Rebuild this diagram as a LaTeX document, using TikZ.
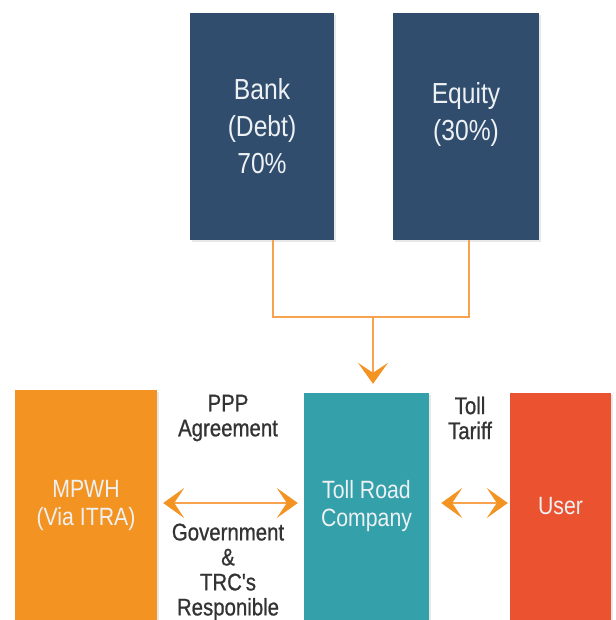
\documentclass[tikz,border=0pt]{standalone}
\usepackage{fontspec}
\setmainfont{Liberation Sans}[FakeStretch=0.85]
\newfontfamily\lblfont{Liberation Sans}[FakeStretch=0.85, FakeBold=0.8]
\usetikzlibrary{arrows.meta,shadows}
\definecolor{navy}{HTML}{304D6E}
\definecolor{mporange}{HTML}{F39322}
\definecolor{teal}{HTML}{33A0AA}
\definecolor{userred}{HTML}{EB5230}
\definecolor{lineorange}{HTML}{F6A24E}
\definecolor{tiporange}{HTML}{F39322}
\definecolor{boxtext}{HTML}{EEF1F4}
\definecolor{labeltext}{HTML}{333333}
\tikzset{
  box/.style={rectangle, inner sep=0pt, text=boxtext, align=center,
    drop shadow={opacity=0.18, shadow xshift=2pt, shadow yshift=-2pt}},
  topbox/.style={box, fill=navy, font=\fontsize{29}{37}\selectfont},
  lowbox/.style={box, font=\fontsize{25}{28}\selectfont},
  lbl/.style={text=labeltext, align=center, inner sep=0pt, font=\lblfont\fontsize{24}{25}\selectfont},
  feed/.style={draw=lineorange, line width=2pt},
  tipped/.style={draw=lineorange, line width=2pt,
    -{Stealth[length=21pt,width=30pt,inset=10pt,color=tiporange]}},
  both/.style={draw=lineorange, line width=2pt,
    {Stealth[length=21pt,width=30pt,inset=10pt,color=tiporange]}-{Stealth[length=21pt,width=30pt,inset=10pt,color=tiporange]}}
}
\begin{document}
\begin{tikzpicture}[x=1pt,y=-1pt]
\useasboundingbox (0,0) rectangle (615,620);
\node[topbox, minimum width=144pt, minimum height=227pt] (bank) at (262,126.5) {Bank\\(Debt)\\70\%};
\node[topbox, minimum width=146pt, minimum height=227pt] (equity) at (466,126.5) {Equity\\(30\%)\\[-6pt]\mbox{}};
\node[lowbox, fill=mporange, minimum width=142pt, minimum height=230pt] (mpwh) at (86,505) {MPWH\\(Via ITRA)};
\node[lowbox, fill=teal, minimum width=125pt, minimum height=227pt] (toll) at (366.5,506.5) {Toll Road\\Company};
\node[lowbox, fill=userred, minimum width=101pt, minimum height=227pt] (user) at (560.5,506.5) {User};

\node[lbl] (ppp) at (228,418) {PPP\\Agreement};
\node[lbl] (gov) at (228,572) {Government\\\&\\TRC's\\Responible};
\node[lbl] (tariff) at (470,418) {Toll\\Tariff};

\coordinate (join) at (373,317);
\coordinate (arrowy) at (0,503);

\draw[feed] ([xshift=11pt]bank.south) |- (join) -| ([xshift=3pt]equity.south);
\draw[tipped, shorten >=9pt] (join) -- (join |- toll.north);
\draw[both, shorten <=6pt, shorten >=6pt] (mpwh.east |- arrowy) -- (toll.west |- arrowy);
\draw[both, shorten <=12pt, shorten >=2pt] (toll.east |- arrowy) -- (user.west |- arrowy);
\end{tikzpicture}
\end{document}
